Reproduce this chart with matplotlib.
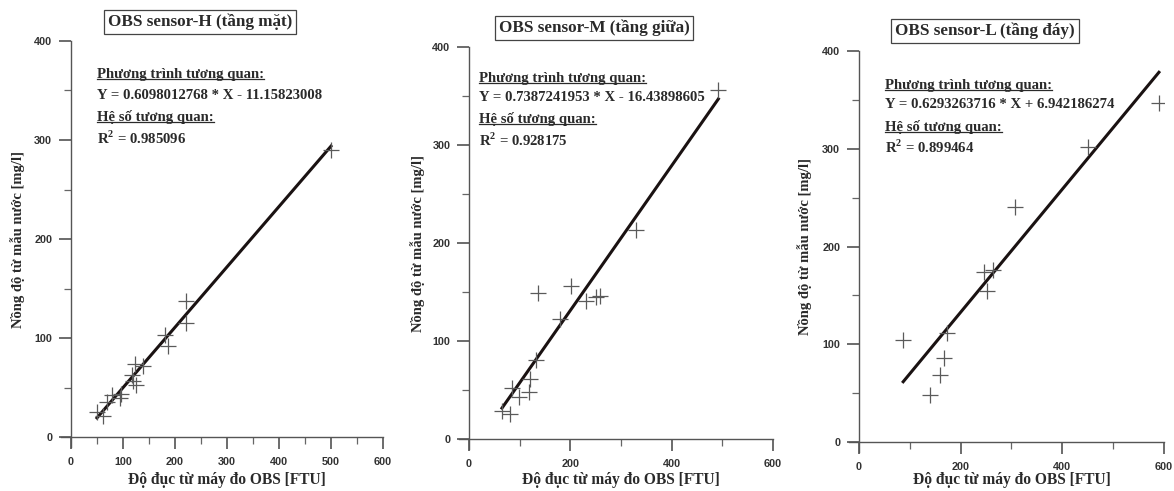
import matplotlib
matplotlib.use("Agg")
import matplotlib.pyplot as plt
from matplotlib.lines import Line2D
from matplotlib.ticker import MultipleLocator

plt.rcParams["mathtext.fontset"] = "custom"
plt.rcParams["mathtext.rm"] = "Liberation Serif:bold"
plt.rcParams["mathtext.bf"] = "Liberation Serif:bold"

# --- data ---
titles = ["OBS sensor-H (tầng mặt)", "OBS sensor-M (tầng giữa)", "OBS sensor-L (tầng đáy)"]

h_x = [50, 62, 69, 78, 94, 96, 117, 120, 123, 126, 139, 181, 187, 222, 222, 500]
h_y = [25, 21, 35, 42, 39, 43, 63, 57, 74, 53, 72, 103, 92, 137, 115, 290]

m_x = [65, 80, 84, 99, 118, 120, 133, 137, 180, 201, 231, 250, 258, 330, 492]
m_y = [29, 26, 52, 43, 48, 61, 81, 149, 122, 156, 141, 145, 146, 213, 356]

l_x = [87, 140, 160, 167, 173, 245, 251, 263, 307, 450, 590]
l_y = [104, 48, 69, 86, 112, 174, 154, 176, 240, 302, 347]

slopes = [0.6098012768, 0.7387241953, 0.6293263716]
intercepts = [-11.15823008, -16.43898605, 6.942186274]
eq_text = ["Y = 0.6098012768 * X - 11.15823008",
           "Y = 0.7387241953 * X - 16.43898605",
           "Y = 0.6293263716 * X + 6.942186274"]
r2_text = ["R$^{2}$ = 0.985096", "R$^{2}$ = 0.928175", "R$^{2}$ = 0.899464"]

xs = [h_x, m_x, l_x]
ys = [h_y, m_y, l_y]
x_major = [100, 200, 200]
x_minor = [50, 100, 100]

# axes placement in figure fractions [left, bottom, width, height]
boxes = [[0.0516, 0.0898, 0.2746, 0.8267],
         [0.3909, 0.0859, 0.2676, 0.8183],
         [0.7230, 0.0798, 0.2685, 0.8163]]
title_pos = [(200, 22), (594, 28), (985, 31)]
ylabel_x = [18, 418, 805]
text_x = [50, 20, 51]
text_y = [[366, 345, 323, 302], [368, 349, 327, 305], [365, 345, 322, 301]]

W, H = 1174, 491
serif = "Liberation Serif"
ink = "#2a2a2a"

fig = plt.figure(figsize=(W / 100, H / 100), dpi=100)
fig.patch.set_facecolor("white")

underlined = []
for i in range(3):
    ax = fig.add_axes(boxes[i])
    ax.set_xlim(-20, 600)
    ax.set_ylim(-10, 400)
    for s in ["top", "right"]:
        ax.spines[s].set_visible(False)
    ax.spines["left"].set_position(("data", 0))
    ax.spines["bottom"].set_position(("data", 0))
    for s in ["left", "bottom"]:
        ax.spines[s].set_color("#555555")
        ax.spines[s].set_linewidth(1)
    ax.xaxis.set_major_locator(MultipleLocator(x_major[i]))
    ax.xaxis.set_minor_locator(MultipleLocator(x_minor[i]))
    ax.yaxis.set_major_locator(MultipleLocator(100))
    ax.yaxis.set_minor_locator(MultipleLocator(50))
    ax.tick_params(which="major", direction="out", length=8.5, width=1.1, color="#444444",
                   labelsize=7.8, labelcolor="#333333", pad=5)
    ax.tick_params(which="minor", direction="out", length=5, width=0.9, color="#666666")
    ax.tick_params(axis="x", which="major", pad=6)
    for lab in ax.get_xticklabels() + ax.get_yticklabels():
        lab.set_fontfamily("Liberation Sans")
        lab.set_fontweight("bold")
    ax.set_facecolor("none")

    # regression line over the range of the samples
    x0, x1 = min(xs[i]), max(xs[i])
    ax.plot([x0, x1], [slopes[i] * x0 + intercepts[i], slopes[i] * x1 + intercepts[i]],
            color="#1a1212", lw=2.2, zorder=3)
    ax.plot(xs[i], ys[i], "+", color="#5a5a5a", ms=11, mew=0.9, zorder=4)

    # annotation block
    t1 = ax.text(text_x[i], text_y[i][0], "Phương trình tương quan:", family=serif,
                 weight="bold", fontsize=10.6, color=ink, va="center")
    ax.text(text_x[i], text_y[i][1], eq_text[i], family=serif, weight="bold",
            fontsize=10.6, color=ink, va="center")
    t3 = ax.text(text_x[i], text_y[i][2], "Hệ số tương quan:", family=serif,
                 weight="bold", fontsize=10.6, color=ink, va="center")
    ax.text(text_x[i], text_y[i][3], r2_text[i], family=serif, weight="bold",
            fontsize=10.6, color=ink, va="center")
    underlined += [t1, t3]

    # titles and axis labels placed in pixel positions of the scan
    tx, ty = title_pos[i]
    fig.text(tx / W, 1 - ty / H, titles[i], family=serif, weight="bold", fontsize=12.3,
             color=ink, ha="center", va="center",
             bbox=dict(boxstyle="square,pad=0.22", fc="white", ec="#444444", lw=0.9))
    b = boxes[i]
    xc = b[0] + b[2] * (20 + 300) / 620
    fig.text(xc, 1 - 480 / H, "Độ đục từ máy đo OBS [FTU]", family=serif, weight="bold",
             fontsize=11.2, color=ink, ha="center", va="center")
    yc = b[1] + b[3] * (10 + 200) / 410
    fig.text(ylabel_x[i] / W, yc, "Nồng độ từ mẫu nước [mg/l]", family=serif, weight="bold",
             fontsize=10.5, color=ink, ha="center", va="center", rotation=90)

# underline the two headings in each panel
fig.canvas.draw()
inv = fig.transFigure.inverted()
for t in underlined:
    bb = t.get_window_extent()
    (ux0, uy), (ux1, _) = inv.transform([(bb.x0, bb.y0 + 2), (bb.x1, bb.y0 + 2)])
    fig.add_artist(Line2D([ux0, ux1], [uy, uy], color=ink, lw=0.9))

fig.savefig("out.png", dpi=100)
